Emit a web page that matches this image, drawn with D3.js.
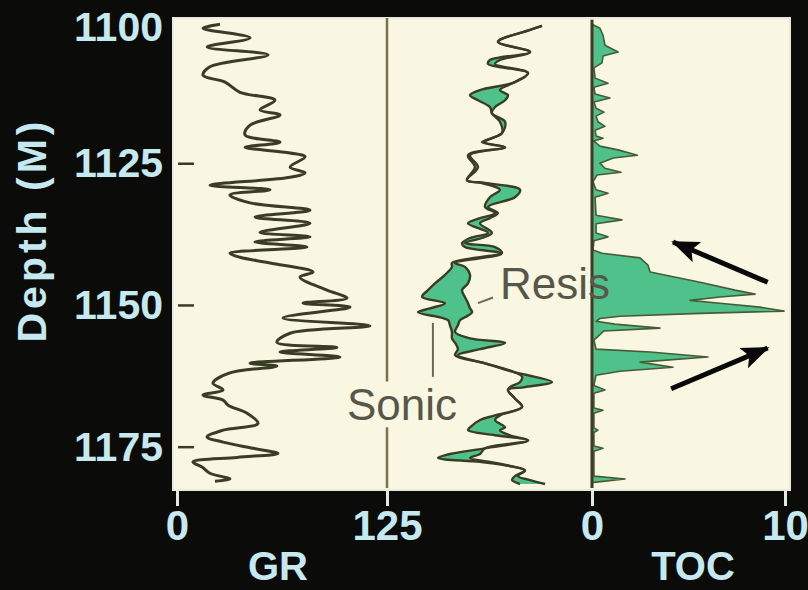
<!DOCTYPE html>
<html><head><meta charset="utf-8">
<script src="https://cdn.jsdelivr.net/npm/d3@7"></script>
<style>html,body{margin:0;padding:0;background:#0b0b09;} svg{display:block}</style>
</head><body><svg id="c" width="808" height="590"></svg>
<script>
// ---- data ----
const depthTicks = [1100, 1125, 1150, 1175];
const grTicks = [0, 125];
const tocTicks = [0, 10];

const grDepth = [1100.4,1101.1,1102.8,1104.4,1105.8,1107.9,1109.4,1110.6,1112.4,1113.8,1115.5,1116.4,1118.2,1119.9,1121.2,1122.1,1123.1,1123.8,1125.6,1126.6,1127.4,1128.8,1129.6,1130.5,1131.9,1133.2,1134.4,1135.5,1137.1,1137.9,1138.8,1139.7,1140.8,1141.5,1142.5,1144.1,1145.0,1147.3,1148.7,1149.6,1150.3,1152.2,1153.6,1154.9,1156.5,1157.4,1158.2,1159.1,1160.2,1160.7,1161.9,1163.7,1164.9,1165.8,1166.7,1167.6,1169.0,1170.8,1172.0,1173.2,1174.1,1175.2,1176.1,1176.8,1177.6,1178.5,1179.6,1180.6,1181.0];
const grValue = [25.6,15.5,43.5,17.9,54.2,19.6,15.5,28.6,37.5,58.3,49.4,61.3,43.5,40.5,61.3,40.5,67.3,76.2,67.3,76.2,67.3,19.6,55.4,31.5,43.5,79.2,46.4,79.2,49.4,79.2,46.4,77.4,31.5,37.5,55.4,81.0,73.2,89.3,101.2,75.0,103.0,63.1,114.9,67.3,59.5,95.2,61.3,97.0,43.5,59.5,31.5,21.4,27.4,15.5,27.4,30.4,41.7,48.2,27.4,17.9,27.4,45.2,60.1,35.7,9.5,14.9,19.6,31.5,22.6];

const logDepth = [1100.7,1101.4,1103.5,1105.3,1106.7,1107.4,1109.0,1110.6,1112.0,1112.9,1113.8,1115.0,1116.1,1117.6,1119.6,1121.2,1122.1,1123.5,1125.6,1127.9,1128.4,1129.6,1130.9,1132.6,1133.7,1134.6,1135.5,1137.2,1138.1,1139.0,1139.7,1140.8,1142.5,1143.2,1144.6,1146.1,1147.3,1148.5,1149.6,1150.5,1151.2,1152.1,1152.6,1153.5,1154.7,1155.8,1156.6,1157.7,1158.8,1160.2,1161.8,1162.6,1163.5,1164.4,1164.9,1166.4,1167.9,1169.4,1170.2,1171.5,1172.0,1172.9,1173.8,1175.2,1176.2,1176.9,1177.6,1178.4,1179.1,1180.1,1180.8,1181.5];
const sonicValue = [75.6,69.8,54.1,69.8,50.2,49.3,68.8,62.4,45.4,40.5,44.4,50.2,51.2,55.1,56.1,46.3,57.6,39.5,42.9,39.0,46.3,55.1,50.2,47.8,52.7,45.4,39.5,49.3,40.5,36.6,38.0,55.1,31.7,31.7,28.3,23.4,20.0,17.1,28.3,21.0,15.1,25.9,29.8,30.7,31.7,31.7,33.2,34.6,33.2,47.8,62.4,65.9,64.9,60.0,59.0,62.4,65.9,52.7,45.4,40.5,39.5,52.7,68.8,47.8,30.7,24.9,45.4,61.0,67.3,62.4,61.0,64.9];
const resisValue = [75.6,69.8,54.1,69.8,55.1,52.7,68.8,62.4,55.1,59.0,57.6,52.7,51.2,57.6,56.1,47.8,57.6,40.5,44.4,39.0,47.8,64.9,62.4,49.3,54.1,50.2,45.4,51.2,46.3,38.0,52.7,56.1,33.2,38.0,40.5,39.5,36.6,38.0,39.5,40.5,41.5,38.0,35.6,34.6,33.2,40.5,57.6,45.4,34.6,47.8,62.4,72.2,80.5,67.3,59.0,62.4,65.9,55.1,52.7,57.6,55.1,60.0,68.8,47.8,45.4,40.5,50.2,61.0,67.3,63.9,69.8,77.1];

const tocDepth = [1100.4,1101.1,1102.3,1104.1,1105.3,1106.0,1107.2,1108.1,1109.9,1110.8,1111.5,1112.7,1113.4,1114.1,1115.2,1115.9,1116.6,1117.6,1118.4,1119.1,1120.1,1120.5,1121.0,1121.9,1122.6,1123.5,1124.0,1124.9,1125.8,1126.5,1127.0,1128.2,1129.6,1130.2,1130.9,1134.1,1134.9,1135.6,1137.2,1137.9,1138.6,1140.2,1140.8,1141.6,1142.9,1144.1,1145.9,1147.3,1148.0,1148.5,1149.1,1149.6,1150.3,1151.0,1151.4,1151.9,1152.3,1152.8,1153.3,1154.0,1154.5,1156.1,1157.7,1158.2,1159.1,1160.0,1160.9,1161.6,1162.3,1164.1,1164.9,1165.5,1168.1,1168.5,1169.0,1171.6,1172.0,1172.4,1174.8,1175.2,1175.7,1180.1,1180.6,1181.2];
const tocValue = [0.0,0.41,0.57,0.67,1.35,0.57,0.52,0.10,0.16,0.83,0.10,0.16,0.93,0.10,0.21,0.62,0.21,0.31,0.67,0.16,0.21,0.57,0.10,0.41,1.40,2.35,1.10,0.41,0.67,1.50,0.26,0.05,0.21,0.83,0.16,0.21,1.55,0.21,0.21,0.83,0.10,0.05,0.52,2.49,2.90,3.01,5.60,7.41,8.45,6.63,5.08,6.63,8.70,9.95,5.60,1.45,0.41,0.21,1.19,3.52,0.62,0.10,0.21,3.01,6.01,2.49,4.20,1.45,0.21,0.10,0.67,0.10,0.10,0.57,0.10,0.10,0.31,0.10,0.10,0.57,0.10,0.10,1.71,0.10];

// ---- layout ----
const W = 808, H = 590;
const panel = {x0: 173, x1: 790, y0: 18, y1: 490};
const svg = d3.select('#c');
const y = d3.scaleLinear().domain([1100, 1182.2]).range([22, 488]);
const xGR = d3.scaleLinear().domain([0, 125]).range([177, 387]);
const xLog = d3.scaleLinear().domain([0, 100]).range([387, 592]);
const xTOC = d3.scaleLinear().domain([0, 10]).range([592, 785]);

const ink = '#3a3d24';
const green = '#4fc28c';
const labelCol = '#c6e9f0';
const FONT = '"Liberation Sans", Arial, Helvetica, sans-serif';

svg.append('rect').attr('width', W).attr('height', H).attr('fill', '#0b0b09');
svg.append('rect').attr('x', panel.x0).attr('y', panel.y0)
  .attr('width', panel.x1 - panel.x0).attr('height', panel.y1 - panel.y0)
  .attr('fill', '#f9f7e2').attr('stroke', '#e9eadf').attr('stroke-width', 2);

// ---- GR track ----
const gr = grDepth.map((d, i) => ({d, v: grValue[i]}));
svg.append('path').datum(gr)
  .attr('d', d3.line().x(p => xGR(p.v)).y(p => y(p.d)).curve(d3.curveCatmullRom.alpha(0.5)))
  .attr('fill', 'none').attr('stroke', ink).attr('stroke-width', 3).attr('stroke-linejoin', 'round');

// depth tick dashes inside the panel
svg.selectAll('.dtick').data(depthTicks.filter(t => t > 1100)).join('line')
  .attr('x1', 178).attr('x2', 194).attr('y1', d => y(d)).attr('y2', d => y(d))
  .attr('stroke', ink).attr('stroke-width', 2.5);

// separator between GR and log track (broken behind "Sonic")
const sepGap = [1163.4, 1171.5];
[[1099.3, sepGap[0]], [sepGap[1], 1182.2]].forEach(s => {
  svg.append('line').attr('x1', xGR(125)).attr('x2', xGR(125))
    .attr('y1', y(s[0])).attr('y2', y(s[1]))
    .attr('stroke', '#76744e').attr('stroke-width', 2.5);
});

// ---- Sonic / Resistivity overlay ----
const lg = logDepth.map((d, i) => ({d, s: sonicValue[i], r: resisValue[i]}));
const cr = d3.curveCatmullRom.alpha(0.5);
svg.append('path').datum(lg)
  .attr('d', d3.area().y(p => y(p.d)).x0(p => xLog(p.s)).x1(p => xLog(p.r)).curve(cr))
  .attr('fill', green);
['s', 'r'].forEach(k => {
  svg.append('path').datum(lg)
    .attr('d', d3.line().x(p => xLog(p[k])).y(p => y(p.d)).curve(cr))
    .attr('fill', 'none').attr('stroke', ink).attr('stroke-width', 2.4).attr('stroke-linejoin', 'round');
});

// ---- TOC track ----
const tc = tocDepth.map((d, i) => ({d, v: tocValue[i]}));
svg.append('path').datum(tc)
  .attr('d', d3.area().y(p => y(p.d)).x0(xTOC(0)).x1(p => xTOC(p.v)))
  .attr('fill', green).attr('stroke', '#4a5a34').attr('stroke-width', 1.6).attr('stroke-linejoin', 'round');
svg.append('line').attr('x1', xTOC(0)).attr('x2', xTOC(0))
  .attr('y1', y(1099.6)).attr('y2', y(1182.2))
  .attr('stroke', ink).attr('stroke-width', 3);

// ---- annotations ----
const annoText = [
  {t: 'Resis', x: xLog(55.1), y: y(1148.8)},
  {t: 'Sonic', x: xLog(-19.5), y: y(1170.2)}
];
svg.selectAll('.anno').data(annoText).join('text')
  .attr('x', d => d.x).attr('y', d => d.y).text(d => d.t)
  .attr('font-family', FONT).attr('font-size', 44).attr('fill', '#56574a');
const leaders = [
  {v1: 44.4, d1: 1149.6, v2: 51.7, d2: 1148.6},
  {v1: 22.4, d1: 1153.1, v2: 22.4, d2: 1162.6}
];
svg.selectAll('.lead').data(leaders).join('line')
  .attr('x1', d => xLog(d.v1)).attr('y1', d => y(d.d1))
  .attr('x2', d => xLog(d.v2)).attr('y2', d => y(d.d2))
  .attr('stroke', '#6a6a52').attr('stroke-width', 2);

// arrows (TOC units / depth)
const defs = svg.append('defs');
defs.append('marker').attr('id', 'ah').attr('markerUnits', 'userSpaceOnUse')
  .attr('markerWidth', 30).attr('markerHeight', 24).attr('refX', 26).attr('refY', 12)
  .attr('orient', 'auto')
  .append('path').attr('d', 'M0,1 L28,12 L0,23 L6,12 z').attr('fill', '#080808');
const arrows = [
  {t0: 9.1, d0: 1145.9, t1: 4.2, d1: 1138.8},
  {t0: 4.1, d0: 1164.7, t1: 9.1, d1: 1157.5}
];
svg.selectAll('.arr').data(arrows).join('line')
  .attr('x1', d => xTOC(d.t0)).attr('y1', d => y(d.d0))
  .attr('x2', d => xTOC(d.t1)).attr('y2', d => y(d.d1))
  .attr('stroke', '#080808').attr('stroke-width', 5).attr('marker-end', 'url(#ah)');

// ---- axes ----
const axY = svg.append('g').attr('transform', `translate(${panel.x0},0)`)
  .call(d3.axisLeft(y).tickValues(depthTicks).tickSize(0).tickPadding(10).tickFormat(d3.format('d')));
axY.select('.domain').remove();
axY.selectAll('text').attr('font-family', FONT).attr('font-weight', 'bold').attr('font-size', 41).attr('fill', labelCol)
  .attr('dy', d => d === 1100 ? '0.46em' : '0.32em');

function bottomAxis(scale, ticks) {
  const g = svg.append('g').attr('transform', `translate(0,${panel.y1 - 1})`)
    .call(d3.axisBottom(scale).tickValues(ticks).tickSize(17).tickPadding(4).tickFormat(d3.format('d')));
  g.select('.domain').remove();
  g.selectAll('line').attr('stroke', '#e4ebe2').attr('stroke-width', 3);
  g.selectAll('text').attr('font-family', FONT).attr('font-weight', 'bold').attr('font-size', 42).attr('fill', labelCol);
}
bottomAxis(xGR, grTicks);
bottomAxis(xTOC, tocTicks);

svg.append('text').attr('x', 278).attr('y', 580).attr('text-anchor', 'middle')
  .attr('font-family', FONT).attr('font-weight', 'bold').attr('font-size', 40).attr('fill', labelCol).text('GR');
svg.append('text').attr('x', 693).attr('y', 580).attr('text-anchor', 'middle')
  .attr('font-family', FONT).attr('font-weight', 'bold').attr('font-size', 40).attr('fill', labelCol).text('TOC');
svg.append('text').attr('transform', 'translate(46,230) rotate(-90)').attr('text-anchor', 'middle')
  .attr('font-family', FONT).attr('font-weight', 'bold').attr('font-size', 41).attr('letter-spacing', 4)
  .attr('fill', labelCol).text('Depth (M)');
</script></body></html>
